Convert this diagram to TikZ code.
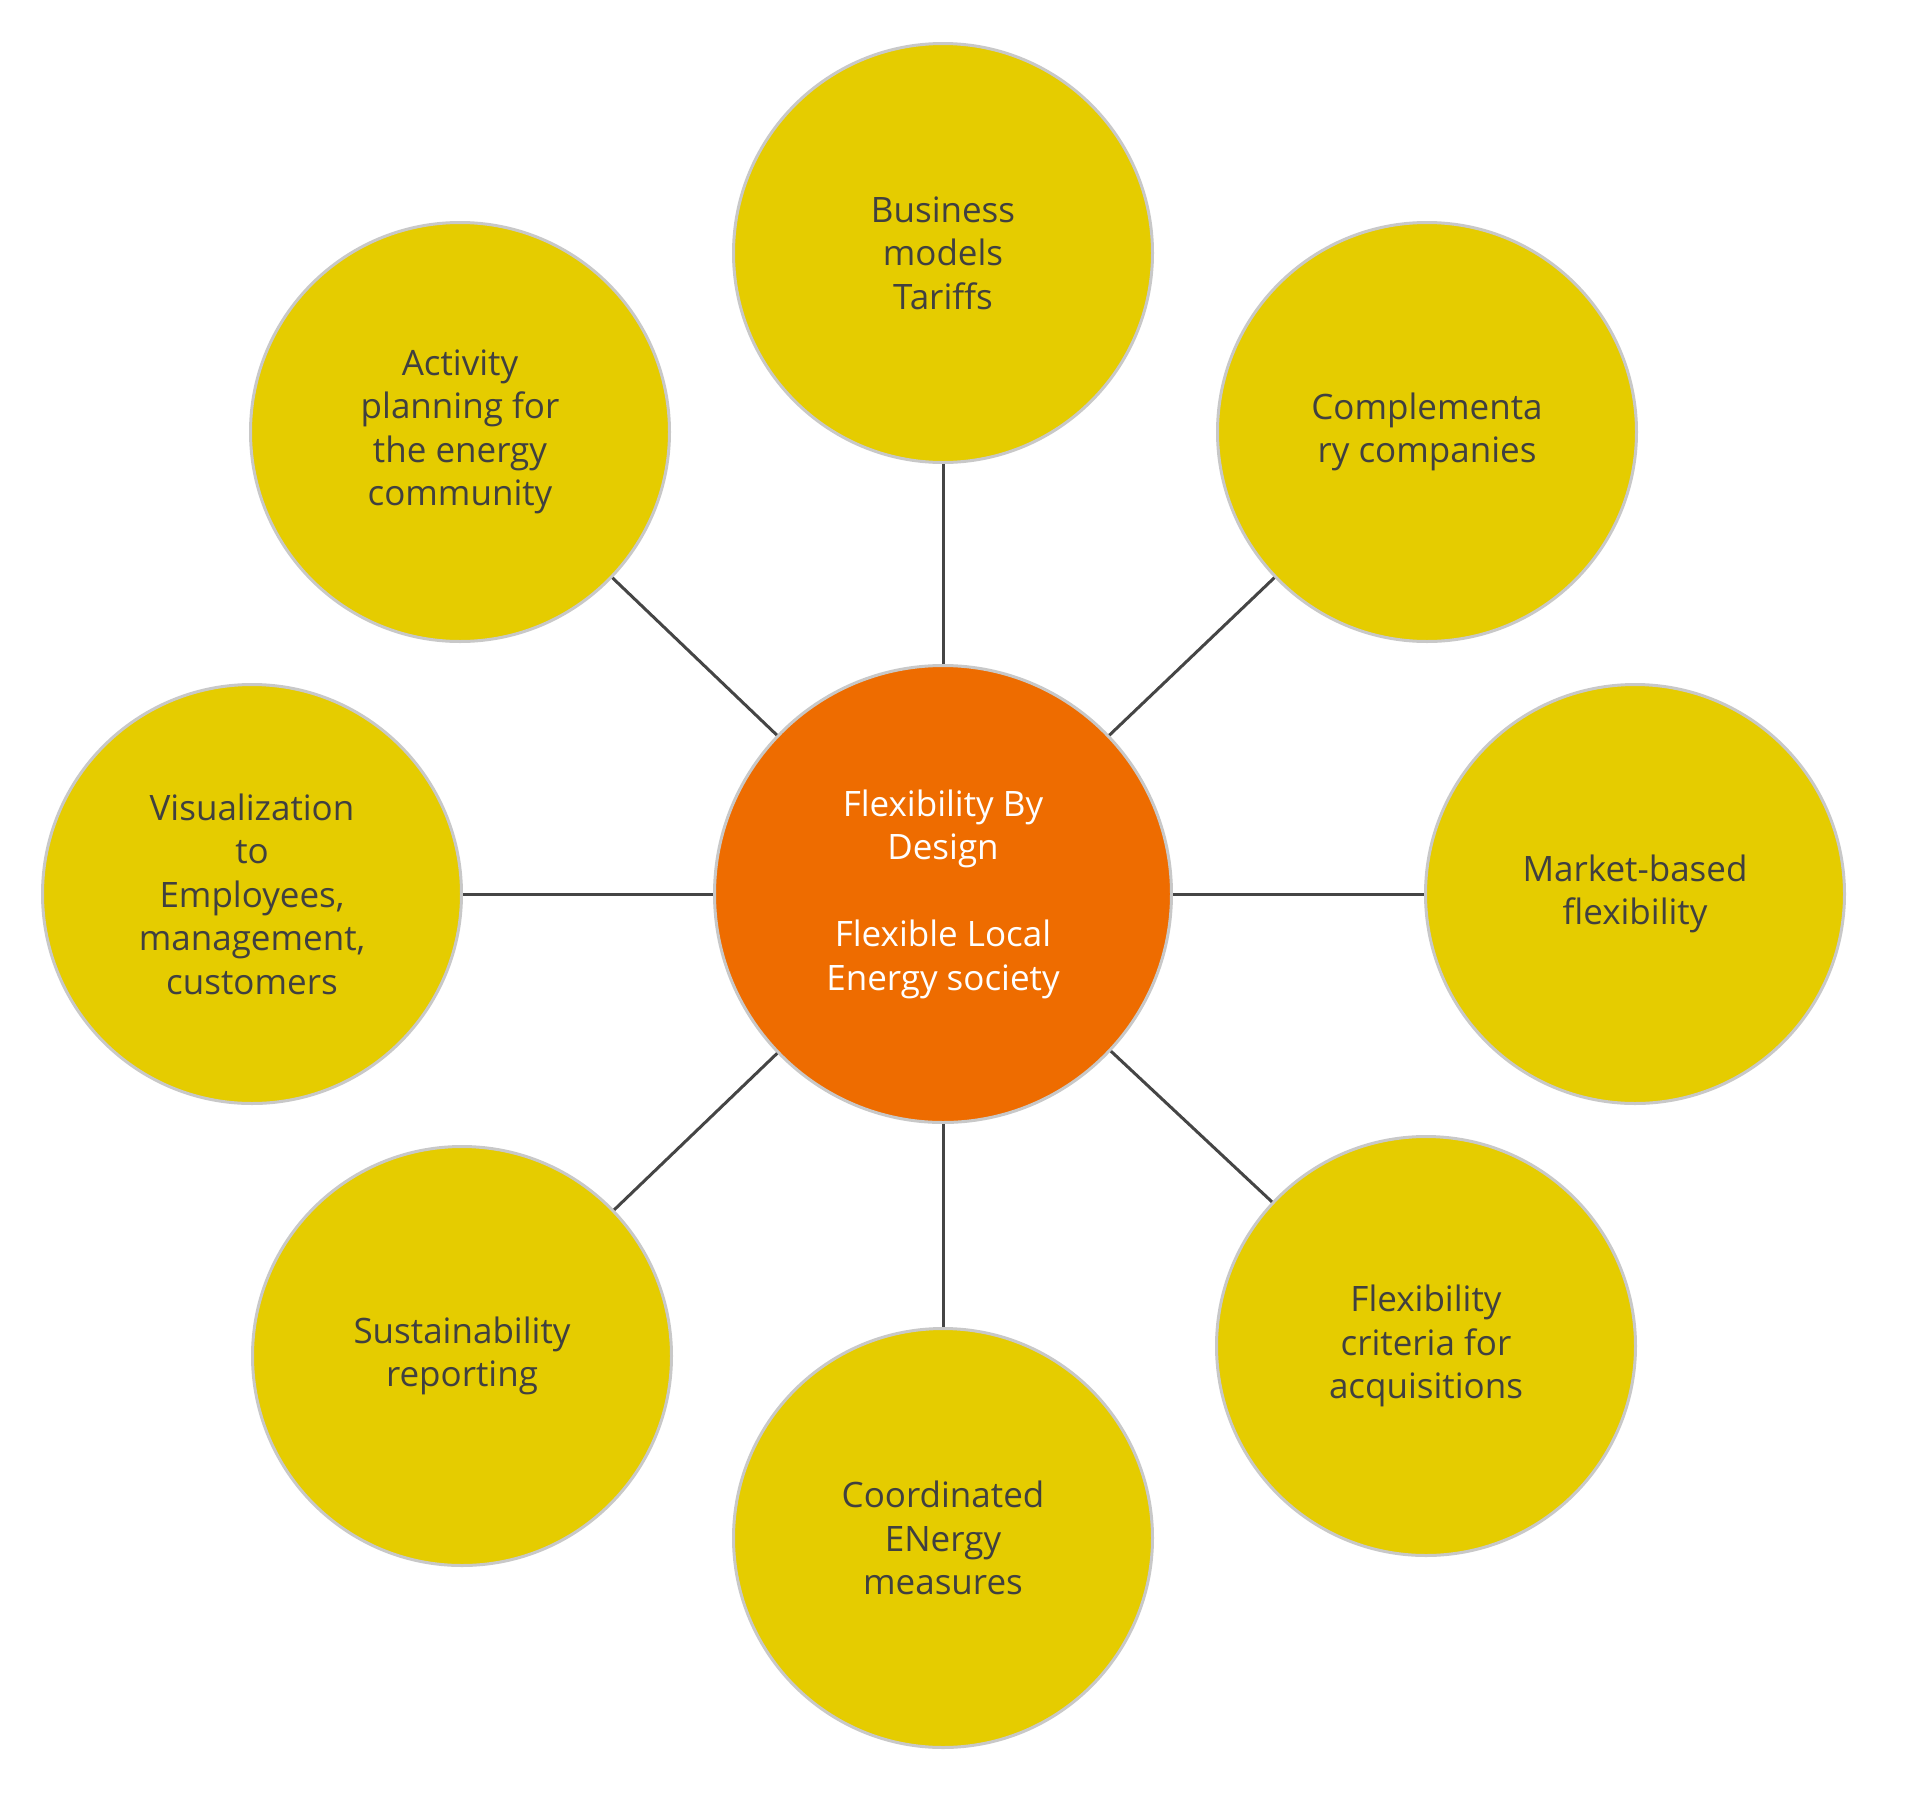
\documentclass[tikz,border=0pt]{standalone}
\usepackage{fontspec}
\setmainfont{Open Sans}
\definecolor{ybub}{HTML}{E5CC00}
\definecolor{obub}{HTML}{EE6C00}
\definecolor{rimc}{HTML}{C8C8C8}
\definecolor{txtc}{HTML}{404040}
\definecolor{linec}{HTML}{454545}
\tikzset{
  bubble/.style={circle, fill=ybub, draw=rimc, line width=3pt, minimum size=419pt,
    inner sep=0pt, align=center, text=txtc, font=\fontsize{35}{43.5}\selectfont},
  hub/.style={circle, fill=obub, draw=rimc, line width=3pt, minimum size=457pt,
    inner sep=0pt, align=center, text=white, font=\fontsize{35}{43.5}\selectfont},
  spoke/.style={draw=linec, line width=3pt}
}
\begin{document}
\begin{tikzpicture}[x=1pt,y=-1pt]
\useasboundingbox (0,0) rectangle (1920,1820);
\node[hub] (c) at (943,894) {Flexibility By\\Design\\[43.5pt]Flexible Local\\Energy society};
\node[bubble] (t) at (943,253) {Business\\models\\Tariffs};
\node[bubble] (ur) at (1427,432) {Complementa\\ry companies};
\node[bubble] (r) at (1635,894) {Market-based\\flexibility};
\node[bubble] (lr) at (1426,1346) {Flexibility\\criteria for\\acquisitions};
\node[bubble] (b) at (943,1538) {Coordinated\\ENergy\\measures};
\node[bubble] (ll) at (462,1356) {Sustainability\\reporting};
\node[bubble] (l) at (252,894) {Visualization\\to\\Employees,\\management,\\customers};
\node[bubble] (ul) at (460,432) {Activity\\planning for\\the energy\\community};
\foreach \n in {t,ur,r,lr,b,ll,l,ul} \draw[spoke] (c) -- (\n);
\end{tikzpicture}
\end{document}
